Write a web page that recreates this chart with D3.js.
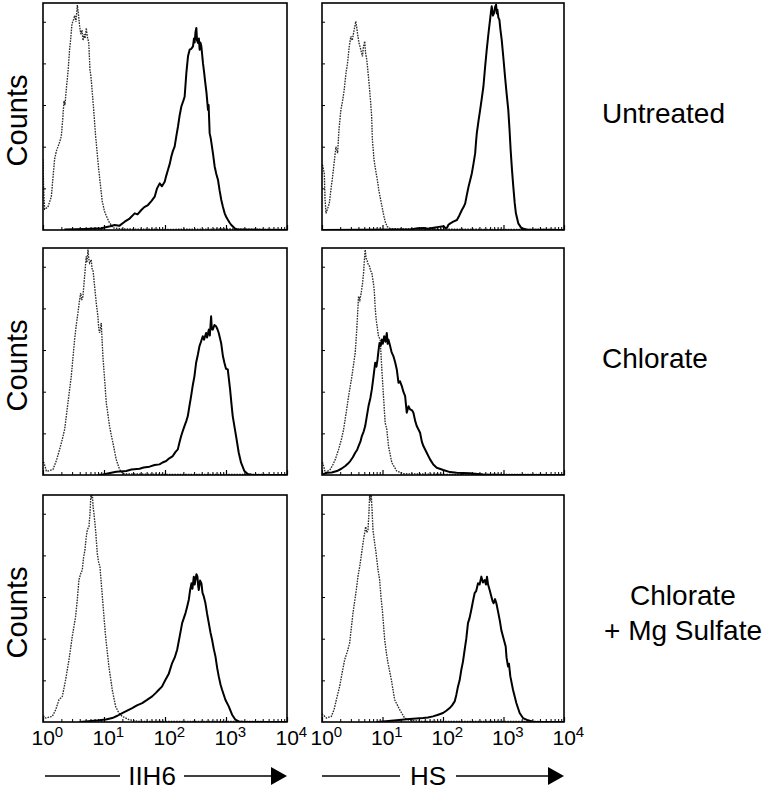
<!DOCTYPE html>
<html><head><meta charset="utf-8">
<script src="https://cdn.jsdelivr.net/npm/d3@7"></script>
<style>body{margin:0;background:#fff}svg{display:block}text{font-family:Arial,"Liberation Sans",sans-serif;fill:#000}</style>
</head><body><svg id="c" width="766" height="791"></svg>
<script>
// ---- data: [log10 fluorescence, counts] ----
const rowLabels = [["Untreated"], ["Chlorate"], ["Chlorate", "+ Mg Sulfate"]];
const markers = ["IIH6", "HS"];
const decadeLabels = [0, 1, 2, 3, 4];
const countTicks = [20, 40, 60, 80, 100];

const untreatedIIH6Iso = [[0,34],[0.01,20],[0.027,10],[0.08,11],[0.137,16],[0.16,24],[0.19,34],[0.22,38],[0.246,40],[0.27,42],[0.3,45],[0.32,52],[0.344,62],[0.36,60],[0.38,67],[0.41,76],[0.437,87],[0.455,92],[0.475,99],[0.5,101],[0.52,103],[0.54,100],[0.563,108],[0.58,104],[0.6,98],[0.62,94],[0.64,96],[0.656,91],[0.675,94],[0.69,92],[0.71,97],[0.725,93],[0.75,90],[0.77,77],[0.785,74],[0.8,69],[0.83,58],[0.86,46],[0.885,38],[0.91,30],[0.94,22],[0.97,14],[1.0,10],[1.02,8],[1.08,4],[1.15,1],[1.3,0.5],[2.0,0.3],[3.0,0.5],[4,0.2]];
const untreatedIIH6 = [[0.35,0.3],[0.7,0.5],[0.956,0.8],[1.1,1.8],[1.175,2.4],[1.25,2],[1.339,4],[1.42,5.5],[1.503,8],[1.55,7.5],[1.612,9.6],[1.66,11],[1.721,12],[1.78,14],[1.831,16],[1.87,20],[1.913,22.4],[1.95,21],[1.995,23.2],[2.02,26],[2.049,28.9],[2.08,32],[2.104,35.3],[2.13,38],[2.158,40],[2.185,45],[2.213,49.7],[2.24,55],[2.268,59.3],[2.3,62],[2.322,64],[2.35,75.3],[2.377,83.4],[2.404,86.6],[2.43,87],[2.459,88.2],[2.475,92],[2.486,90],[2.5,95],[2.514,97],[2.525,91],[2.541,89.8],[2.555,92],[2.568,86.6],[2.58,90],[2.596,88.2],[2.61,84],[2.623,80],[2.64,76],[2.661,70.5],[2.68,66],[2.705,57.7],[2.715,60],[2.732,46.5],[2.75,44],[2.77,40],[2.79,36],[2.814,30.5],[2.84,27],[2.869,24],[2.895,19],[2.923,14.4],[2.95,11],[2.978,8],[3.0,6.5],[3.033,4.8],[3.06,3.5],[3.087,2.4],[3.142,0.8],[3.197,0.2],[4,0]];
const untreatedHSIso = [[0,31],[0.011,31],[0.038,27],[0.05,15],[0.066,8],[0.09,10],[0.121,12.8],[0.15,20],[0.175,25.6],[0.2,32],[0.23,40],[0.258,36.9],[0.28,48],[0.312,57.7],[0.34,62],[0.367,67.3],[0.395,75],[0.422,80.1],[0.45,88],[0.477,93],[0.5,91],[0.532,96.2],[0.559,100.2],[0.575,97],[0.586,94.6],[0.61,90],[0.641,86.6],[0.668,83.4],[0.685,88],[0.707,90.6],[0.72,85],[0.74,81.8],[0.76,76],[0.778,70.5],[0.805,60.9],[0.82,55],[0.833,43.3],[0.86,33.7],[0.885,29],[0.915,24],[0.94,19],[0.97,14.4],[1.0,10],[1.025,6.4],[1.05,3.5],[1.079,1.6],[1.134,0.6],[2,0.4],[4,0.2]];
const untreatedHS = [[0,0],[1.2,0.3],[1.463,0.3],[1.58,0.9],[1.682,1],[1.75,0.6],[1.847,1.1],[1.93,1.5],[2.011,1.8],[2.04,0.9],[2.066,1.1],[2.09,2.5],[2.121,3.2],[2.17,4],[2.23,4.8],[2.27,7],[2.312,9.6],[2.34,11],[2.367,12.8],[2.395,17],[2.422,20.8],[2.45,24],[2.477,27.3],[2.505,32],[2.532,36.9],[2.545,42],[2.559,46.5],[2.585,52],[2.614,57.7],[2.64,63],[2.668,68.9],[2.695,78],[2.723,86.6],[2.75,94],[2.778,101],[2.79,104],[2.805,107.4],[2.825,103],[2.844,104.2],[2.86,107],[2.877,108.2],[2.89,104],[2.899,105.8],[2.915,102],[2.932,101],[2.95,96],[2.97,91.4],[3.0,82],[3.025,73.7],[3.05,66],[3.079,57.7],[3.1,48],[3.118,38.5],[3.14,29],[3.162,20.8],[3.185,13],[3.205,8],[3.244,3.2],[3.299,0.8],[3.381,0.2],[4,0]];
const chlorateIIH6Iso = [[0,6],[0.016,5.9],[0.055,1.9],[0.1,2],[0.164,2.7],[0.22,7],[0.273,12.3],[0.315,17],[0.355,21.9],[0.409,34.7],[0.464,47.5],[0.49,56],[0.518,65],[0.545,72],[0.573,77.8],[0.595,83],[0.617,87.4],[0.635,84],[0.655,85.8],[0.682,95.4],[0.709,105],[0.72,102],[0.737,108.2],[0.75,104],[0.764,101.8],[0.791,103.4],[0.805,99],[0.819,98.6],[0.846,90.6],[0.873,82.6],[0.9,76.2],[0.915,70],[0.928,68.2],[0.955,73],[0.97,64],[0.982,57],[1.01,45.9],[1.037,34.7],[1.065,29],[1.091,23.5],[1.12,19],[1.146,15.5],[1.2,7.5],[1.255,2.7],[1.31,0.6],[2,0.3],[4,0.2]];
const chlorateIIH6 = [[0.9,0],[0.982,0.3],[1.1,1],[1.2,1.6],[1.364,1.9],[1.45,2.6],[1.583,3],[1.65,3.6],[1.746,4],[1.83,4.8],[1.91,5.1],[1.96,6],[2.019,6.7],[2.07,8],[2.128,9.1],[2.17,11],[2.21,12.3],[2.24,16],[2.265,18.7],[2.29,21],[2.319,23.5],[2.35,26],[2.374,28.3],[2.4,33],[2.428,37.9],[2.455,43],[2.483,47.5],[2.51,53.9],[2.54,58],[2.565,61.9],[2.59,64],[2.619,66.6],[2.64,65],[2.674,68.2],[2.69,66],[2.718,69.8],[2.735,67],[2.756,76.2],[2.768,70],[2.783,69.8],[2.81,72],[2.838,71.4],[2.86,70],[2.881,68.2],[2.92,63.4],[2.95,57],[2.974,53.9],[3.0,51],[3.029,50.7],[3.067,41.1],[3.09,34],[3.11,28.3],[3.14,23],[3.165,18.7],[3.209,10.7],[3.247,5.9],[3.302,1.9],[3.356,0.5],[3.438,0],[4,0]];
const chlorateHSIso = [[0,6],[0.011,5.9],[0.055,1.1],[0.137,2.7],[0.18,5],[0.22,7.5],[0.275,12.3],[0.32,17],[0.357,21.9],[0.4,30],[0.44,37.9],[0.495,47.5],[0.549,58.7],[0.575,70],[0.604,85.8],[0.625,84],[0.648,87.4],[0.67,92],[0.687,97],[0.7,103],[0.714,108.2],[0.73,104],[0.742,103.4],[0.765,101],[0.786,100.2],[0.805,98],[0.824,97],[0.845,93],[0.863,89],[0.88,80],[0.896,74.6],[0.934,66.6],[0.962,65],[0.975,58],[0.989,50.7],[1.016,37.9],[1.044,25.1],[1.071,21.9],[1.099,13.9],[1.154,5.9],[1.236,1.9],[1.346,0.6],[2,0.3],[4,0.2]];
const chlorateHS = [[0,0.5],[0.011,0.3],[0.082,1.1],[0.16,1.2],[0.247,1.9],[0.32,3],[0.385,4.3],[0.43,5.5],[0.467,6.7],[0.51,8.5],[0.549,10.7],[0.58,12],[0.604,13.9],[0.635,16],[0.659,18.7],[0.69,21],[0.714,23.5],[0.74,28],[0.769,33.1],[0.8,37],[0.824,41.1],[0.85,47],[0.879,53.9],[0.9,52],[0.918,55.5],[0.935,60],[0.951,63.4],[0.97,62],[0.989,65],[1.005,63],[1.027,66.6],[1.05,64],[1.071,68.2],[1.085,63],[1.099,65],[1.126,61.9],[1.15,59],[1.181,57],[1.21,54],[1.236,50.7],[1.264,44.3],[1.29,45],[1.319,42.7],[1.345,40],[1.374,37.9],[1.401,29.9],[1.43,33],[1.456,31.5],[1.49,31],[1.511,29.9],[1.54,26],[1.566,23.5],[1.621,20.3],[1.65,16],[1.676,13.9],[1.731,10.7],[1.786,7.5],[1.84,5],[1.896,3.5],[2.005,2.4],[2.115,1.4],[2.225,1.1],[2.445,0.8],[2.665,0.3],[2.995,0],[4,0]];
const chlorateMgIIH6Iso = [[0,3],[0.016,2.7],[0.044,1.9],[0.153,2.7],[0.21,6],[0.262,10.7],[0.317,12.3],[0.371,20.3],[0.426,29.9],[0.48,41.1],[0.535,50.7],[0.56,58],[0.589,68.2],[0.615,71],[0.644,73],[0.665,79],[0.688,82.6],[0.705,88],[0.726,92.2],[0.753,93.8],[0.77,100],[0.785,109],[0.797,107.4],[0.81,109],[0.822,103],[0.835,100.2],[0.862,92.2],[0.89,81],[0.91,77],[0.933,74.6],[0.96,65],[0.999,50.7],[1.026,41.1],[1.08,26.7],[1.135,15.5],[1.19,7.5],[1.244,4.3],[1.299,2.7],[1.408,1.1],[1.572,0.3],[4,0.2]];
const chlorateMgIIH6 = [[0.6,0],[0.699,0.3],[0.917,0.8],[1.03,1.2],[1.135,1.9],[1.22,3],[1.299,4.3],[1.38,5.5],[1.462,6.7],[1.54,8],[1.626,9.1],[1.7,10.5],[1.79,12.3],[1.85,14],[1.899,15.5],[1.95,17],[2.008,20.3],[2.06,23],[2.117,28.3],[2.16,31],[2.199,34.7],[2.24,41],[2.281,47.5],[2.31,50],[2.336,52.3],[2.36,55],[2.39,58.7],[2.41,63],[2.434,66.6],[2.45,64],[2.472,69.8],[2.487,66],[2.499,68.2],[2.515,71],[2.532,69.8],[2.545,65],[2.554,63.4],[2.575,68],[2.597,66.6],[2.615,62],[2.636,60.3],[2.663,57],[2.69,52],[2.718,47.5],[2.745,43],[2.772,39.5],[2.8,35],[2.827,31.5],[2.855,26],[2.881,21.9],[2.91,18],[2.936,15.5],[2.99,10.7],[3.045,7.5],[3.1,3.5],[3.154,1.1],[3.209,0.3],[3.3,0],[4,0]];
const chlorateMgHSIso = [[0,4],[0.017,3.5],[0.072,1.9],[0.154,2.7],[0.2,6],[0.237,10.7],[0.292,17.1],[0.335,24],[0.375,29.9],[0.42,34],[0.457,37.9],[0.512,52.3],[0.54,58],[0.567,63.4],[0.595,70],[0.623,74.6],[0.65,80],[0.678,85.8],[0.7,90],[0.722,93.8],[0.74,91],[0.76,92.2],[0.775,100],[0.788,109],[0.8,106],[0.815,109],[0.83,100],[0.843,92.2],[0.865,87],[0.887,82.6],[0.926,73],[0.953,68.2],[0.975,60],[0.997,53.9],[1.036,39.5],[1.065,33],[1.091,28.3],[1.146,20.3],[1.201,10.7],[1.284,5.9],[1.366,1.9],[1.449,0.8],[1.669,0.3],[4,0.2]];
const chlorateMgHS = [[0.9,0],[1.008,0.3],[1.229,0.8],[1.449,1.4],[1.669,1.9],[1.75,2.2],[1.835,2.7],[1.92,3.5],[2.0,4.3],[2.06,5.5],[2.11,6.7],[2.15,8],[2.193,9.9],[2.22,13],[2.248,17.1],[2.275,20],[2.303,25.1],[2.33,29],[2.358,34.7],[2.385,40],[2.413,47.5],[2.44,50],[2.468,53.9],[2.495,58],[2.523,61.9],[2.55,63],[2.579,66.6],[2.605,66],[2.634,69.8],[2.66,67],[2.689,68.2],[2.71,66],[2.727,69.8],[2.745,66],[2.771,63.4],[2.799,60.3],[2.82,58],[2.837,57],[2.86,59],[2.882,57],[2.91,53],[2.937,49],[2.965,44],[2.992,41.1],[3.036,36.3],[3.05,31],[3.074,26.7],[3.09,28],[3.113,21.9],[3.157,15.5],[3.212,9.1],[3.267,4.3],[3.322,1.9],[3.405,0.8],[3.5,0],[4,0]];

const panelData = [
  [[untreatedIIH6Iso, untreatedIIH6], [untreatedHSIso, untreatedHS]],
  [[chlorateIIH6Iso, chlorateIIH6], [chlorateHSIso, chlorateHS]],
  [[chlorateMgIIH6Iso, chlorateMgIIH6], [chlorateMgHSIso, chlorateMgHS]]
];

// ---- layout ----
const colX = [43, 322], colW = [244, 242];
const rowY = [3, 248, 495], panelH = 227;
const svg = d3.select("#c");
const defs = svg.append("defs");

panelData.forEach((row, r) => {
  row.forEach((pair, c) => {
    const x0 = colX[c], y0 = rowY[r], w = colW[c];
    const x = d3.scaleLog().domain([1, 1e4]).range([x0, x0 + w]);
    const y = d3.scaleLinear().domain([0, 109]).range([y0 + panelH, y0]);
    const id = `clip${r}${c}`;
    defs.append("clipPath").attr("id", id).append("rect")
      .attr("x", x0).attr("y", y0).attr("width", w).attr("height", panelH);
    const g = svg.append("g");
    const line = d3.line().x(d => x(Math.pow(10, d[0]))).y(d => y(d[1]));
    // isotype (dotted)
    g.append("path").datum(pair[0]).attr("clip-path", `url(#${id})`)
      .attr("d", line).attr("fill", "none").attr("stroke", "#2a2a2a")
      .attr("stroke-width", 1.35).attr("stroke-dasharray", "1.6,1.1");
    // antibody (solid)
    g.append("path").datum(pair[1]).attr("clip-path", `url(#${id})`)
      .attr("d", line).attr("fill", "none").attr("stroke", "#000")
      .attr("stroke-width", 2).attr("stroke-linejoin", "round");
    // y ticks inside left
    g.append("g").attr("transform", `translate(${x0},0)`)
      .call(d3.axisRight(y).tickValues(countTicks).tickSize(3).tickFormat(""))
      .call(a => a.select(".domain").remove())
      .call(a => a.selectAll("line").attr("stroke", "#000").attr("stroke-width", 1));
    // x minor ticks inside bottom
    const minor = [];
    for (let d = 0; d < 4; d++) for (let k = 2; k < 10; k++) minor.push(k * Math.pow(10, d));
    g.append("g").attr("transform", `translate(0,${y0 + panelH})`)
      .call(d3.axisTop(x).tickValues(minor).tickSize(3).tickFormat(""))
      .call(a => a.select(".domain").remove())
      .call(a => a.selectAll("line").attr("stroke", "#000").attr("stroke-width", 1));
    g.append("g").attr("transform", `translate(0,${y0 + panelH})`)
      .call(d3.axisTop(x).tickValues(decadeLabels.map(e => Math.pow(10, e))).tickSize(5).tickFormat(""))
      .call(a => a.select(".domain").remove())
      .call(a => a.selectAll("line").attr("stroke", "#000").attr("stroke-width", 1.2));
    // frame
    g.append("rect").attr("x", x0).attr("y", y0).attr("width", w).attr("height", panelH)
      .attr("fill", "none").attr("stroke", "#000").attr("stroke-width", 1.6);
    // tick labels under bottom row
    if (r === 2) {
      decadeLabels.forEach(e => {
        const t = svg.append("text").attr("x", x(Math.pow(10, e)) - 11.5).attr("y", 745)
          .attr("font-size", 21);
        t.append("tspan").text("10");
        t.append("tspan").attr("font-size", 15).attr("dy", -8).text(String(e));
      });
    }
  });
  // Counts label
  const cy = rowY[r] + panelH / 2 + 4;
  svg.append("text").attr("transform", `translate(27,${cy}) rotate(-90)`)
    .attr("text-anchor", "middle").attr("font-size", 29).text("Counts");
});

// row labels
svg.append("text").attr("x", 602).attr("y", 123).attr("font-size", 28).text(rowLabels[0][0]);
svg.append("text").attr("x", 602).attr("y", 368).attr("font-size", 28).text(rowLabels[1][0]);
svg.append("text").attr("x", 683).attr("y", 605).attr("font-size", 28).attr("text-anchor", "middle").text(rowLabels[2][0]);
svg.append("text").attr("x", 683).attr("y", 640).attr("font-size", 28).attr("text-anchor", "middle").text(rowLabels[2][1]);

// marker arrows
const arrowY = 776;
const arrows = [
  {x1: 45, t0: 124, t1: 180, x2: 287},
  {x1: 322, t0: 404, t1: 452, x2: 564}
];
arrows.forEach((a, i) => {
  svg.append("line").attr("x1", a.x1).attr("x2", a.t0 - 4).attr("y1", arrowY).attr("y2", arrowY)
    .attr("stroke", "#000").attr("stroke-width", 1.6);
  svg.append("text").attr("x", (a.t0 + a.t1) / 2).attr("y", arrowY + 8.5).attr("font-size", 26)
    .attr("text-anchor", "middle").text(markers[i]);
  svg.append("line").attr("x1", a.t1 + 4).attr("x2", a.x2 - 14).attr("y1", arrowY).attr("y2", arrowY)
    .attr("stroke", "#000").attr("stroke-width", 1.6);
  svg.append("path").attr("d", `M${a.x2 - 16},${arrowY - 9}L${a.x2},${arrowY}L${a.x2 - 16},${arrowY + 9}Z`)
    .attr("fill", "#000");
});
</script></body></html>
